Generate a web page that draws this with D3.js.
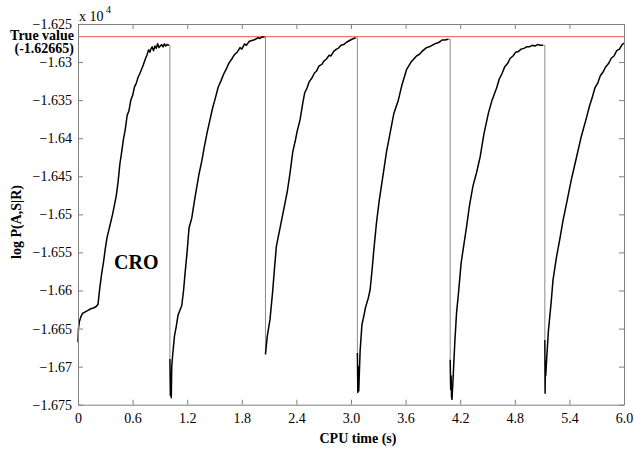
<!DOCTYPE html>
<html><head><meta charset="utf-8">
<script src="https://cdn.jsdelivr.net/npm/d3@7/dist/d3.min.js"></script>
<style>body{margin:0;background:#fff}svg{display:block}text{font-family:"Liberation Serif","Times New Roman",serif}</style>
</head><body><svg id="c" width="634" height="450"></svg>
<script>
// ---- data (log P values in units of 10^4) ----
const xTicks = [0, 0.6, 1.2, 1.8, 2.4, 3.0, 3.6, 4.2, 4.8, 5.4, 6.0];
const xTickLabels = ["0","0.6","1.2","1.8","2.4","3.0","3.6","4.2","4.8","5.4","6.0"];
const yTicks = [-1.675,-1.67,-1.665,-1.66,-1.655,-1.65,-1.645,-1.64,-1.635,-1.63,-1.625];
const yTickLabels = ["\u22121.675","\u22121.67","\u22121.665","\u22121.66","\u22121.655","\u22121.65","\u22121.645","\u22121.64","\u22121.635","\u22121.63","\u22121.625"];
const trueValue = -1.62665;

const seg1T = [0,0.005,0.015,0.03,0.05,0.08,0.11,0.14,0.17,0.20,0.22,0.24,0.26,0.28,0.30,0.32,0.34,0.36,0.38,0.40,0.42,0.44,0.46,0.48,0.50,0.52,0.54,0.56,0.58,0.60,0.62,0.64,0.66,0.68,0.70,0.72,0.74,0.76,0.775,0.79,0.80,0.815,0.83,0.845,0.86,0.875,0.89,0.905,0.92,0.935,0.95,0.965,0.98,1.00];
const seg1V = [-1.6668,-1.6650,-1.6641,-1.6635,-1.6630,-1.6628,-1.6626,-1.6624,-1.6623,-1.6621,-1.6618,-1.6596,-1.6578,-1.6563,-1.6545,-1.6530,-1.6520,-1.6510,-1.6500,-1.6488,-1.6476,-1.6458,-1.6434,-1.6418,-1.6401,-1.6388,-1.6370,-1.6364,-1.6350,-1.6344,-1.6333,-1.6328,-1.6320,-1.6315,-1.6309,-1.6303,-1.6296,-1.6290,-1.6284,-1.6287,-1.6283,-1.6280,-1.6285,-1.6279,-1.6282,-1.6276,-1.6281,-1.6279,-1.6277,-1.6280,-1.6276,-1.6279,-1.6277,-1.6278];

const seg2T = [1.010,1.015,1.020,1.025,1.030,1.04,1.06,1.08,1.10,1.12,1.14,1.16,1.18,1.20,1.22,1.25,1.28,1.30,1.33,1.36,1.39,1.42,1.45,1.48,1.51,1.54,1.57,1.60,1.63,1.66,1.69,1.72,1.75,1.78,1.80,1.83,1.85,1.88,1.90,1.93,1.95,1.98,2.00,2.02,2.05];
const seg2V = [-1.6690,-1.6738,-1.6712,-1.6741,-1.6700,-1.6685,-1.6660,-1.6647,-1.6632,-1.6626,-1.6620,-1.6600,-1.6573,-1.6548,-1.6518,-1.6505,-1.6482,-1.6468,-1.6447,-1.6430,-1.6410,-1.6392,-1.6376,-1.6360,-1.6347,-1.6333,-1.6325,-1.6316,-1.6309,-1.6301,-1.6296,-1.6290,-1.6287,-1.6281,-1.6283,-1.6276,-1.6278,-1.6273,-1.6272,-1.6271,-1.6270,-1.6268,-1.6269,-1.6267,-1.6267];

const seg3T = [2.060,2.08,2.11,2.14,2.16,2.18,2.20,2.22,2.24,2.26,2.28,2.30,2.33,2.36,2.39,2.41,2.44,2.47,2.49,2.52,2.54,2.57,2.60,2.62,2.65,2.68,2.70,2.73,2.76,2.78,2.81,2.84,2.86,2.89,2.92,2.95,2.98,3.01,3.03,3.05];
const seg3V = [-1.6684,-1.6660,-1.6638,-1.6600,-1.6570,-1.6542,-1.6530,-1.6518,-1.6506,-1.6494,-1.6482,-1.6470,-1.6446,-1.6418,-1.6402,-1.6390,-1.6376,-1.6354,-1.6341,-1.6333,-1.6326,-1.6321,-1.6314,-1.6312,-1.6305,-1.6303,-1.6299,-1.6296,-1.6291,-1.6292,-1.6286,-1.6283,-1.6282,-1.6278,-1.6277,-1.6274,-1.6272,-1.6270,-1.6269,-1.6268];

const seg4T = [3.070,3.075,3.080,3.085,3.09,3.10,3.12,3.14,3.16,3.19,3.21,3.23,3.25,3.28,3.31,3.35,3.39,3.43,3.47,3.52,3.56,3.61,3.64,3.66,3.69,3.72,3.75,3.78,3.80,3.83,3.86,3.89,3.92,3.95,3.98,4.00,4.03,4.07];
const seg4V = [-1.6682,-1.6734,-1.6700,-1.6732,-1.6715,-1.6680,-1.6645,-1.6634,-1.6622,-1.6610,-1.6599,-1.6575,-1.6548,-1.6511,-1.6482,-1.6450,-1.6418,-1.6393,-1.6368,-1.6350,-1.6330,-1.6310,-1.6304,-1.6300,-1.6296,-1.6292,-1.6290,-1.6286,-1.6284,-1.6281,-1.6280,-1.6278,-1.6276,-1.6275,-1.6273,-1.6271,-1.6271,-1.6270];

const seg5T = [4.090,4.095,4.100,4.105,4.110,4.12,4.14,4.16,4.18,4.21,4.24,4.27,4.30,4.34,4.38,4.42,4.46,4.51,4.55,4.60,4.63,4.66,4.69,4.72,4.75,4.78,4.81,4.84,4.87,4.90,4.93,4.96,4.99,5.02,5.05,5.08,5.11];
const seg5V = [-1.6691,-1.6730,-1.6712,-1.6740,-1.6743,-1.6720,-1.6670,-1.6629,-1.6605,-1.6564,-1.6540,-1.6516,-1.6490,-1.6463,-1.6445,-1.6424,-1.6395,-1.6367,-1.6350,-1.6334,-1.6322,-1.6315,-1.6306,-1.6302,-1.6295,-1.6292,-1.6287,-1.6286,-1.6283,-1.6282,-1.6280,-1.6280,-1.6278,-1.6279,-1.6277,-1.6278,-1.6278];

const seg6T = [5.130,5.133,5.136,5.14,5.15,5.17,5.20,5.22,5.26,5.30,5.33,5.37,5.42,5.48,5.53,5.59,5.62,5.65,5.68,5.71,5.74,5.77,5.80,5.83,5.86,5.89,5.92,5.95,5.98,6.00];
const seg6V = [-1.6665,-1.6735,-1.6700,-1.6712,-1.6690,-1.6652,-1.6615,-1.6586,-1.6555,-1.6529,-1.6508,-1.6485,-1.6455,-1.6424,-1.6398,-1.6372,-1.6358,-1.6347,-1.6334,-1.6328,-1.6318,-1.6313,-1.6306,-1.6302,-1.6295,-1.6292,-1.6285,-1.6283,-1.6277,-1.6275];

// ---- layout ----
const svg = d3.select("#c");
const L = 78, R = 624, T = 24, B = 404.7;
const x = d3.scaleLinear().domain([0, 6]).range([L, R]);
const y = d3.scaleLinear().domain([-1.675, -1.625]).range([B, T]);
const axisCol = "#808080";

const segs = [[seg1T,seg1V],[seg2T,seg2V],[seg3T,seg3V],[seg4T,seg4V],[seg5T,seg5V],[seg6T,seg6V]]
  .map(([t,v]) => t.map((d,i) => [d, v[i]]));

// true value line
svg.append("line").attr("x1", L).attr("x2", R).attr("y1", y(trueValue)).attr("y2", y(trueValue))
  .attr("stroke", "#f07878").attr("stroke-width", 1.2);

// connectors (restarts)
for (let i = 0; i < segs.length - 1; i++) {
  const a = segs[i][segs[i].length - 1], b = segs[i + 1][0];
  svg.append("path").attr("fill", "none").attr("stroke", "#8a8a8a").attr("stroke-width", 1)
    .attr("d", d3.line().x(d => x(d[0])).y(d => y(d[1]))([a, [b[0], a[1]], b]));
}
// segments
const line = d3.line().x(d => x(d[0])).y(d => y(d[1]));
segs.forEach(s => svg.append("path").attr("d", line(s)).attr("fill", "none")
  .attr("stroke", "#000").attr("stroke-width", 1.5).attr("stroke-linejoin", "round"));

// axes
const fs = "14px";
const gB = svg.append("g").attr("transform", `translate(0,${B})`)
  .call(d3.axisBottom(x).tickValues(xTicks).tickFormat((d,i) => xTickLabels[i]).tickSizeInner(-5).tickSizeOuter(0).tickPadding(12));
const gT = svg.append("g").attr("transform", `translate(0,${T})`)
  .call(d3.axisTop(x).tickValues(xTicks).tickFormat("").tickSizeInner(-5).tickSizeOuter(0));
const gL = svg.append("g").attr("transform", `translate(${L},0)`)
  .call(d3.axisLeft(y).tickValues(yTicks).tickFormat((d,i) => yTickLabels[i]).tickSizeInner(-5).tickSizeOuter(0).tickPadding(6));
const gR = svg.append("g").attr("transform", `translate(${R},0)`)
  .call(d3.axisRight(y).tickValues(yTicks).tickFormat("").tickSizeInner(-5).tickSizeOuter(0));
[gB, gT, gL, gR].forEach(g => {
  g.selectAll("path.domain").attr("stroke", axisCol);
  g.selectAll(".tick line").attr("stroke", axisCol);
  g.selectAll("text").attr("font-family", "Liberation Serif").attr("font-size", fs).attr("fill", "#000");
});
gB.selectAll(".tick text").attr("dy", "0.71em").attr("y", 8);

// labels
svg.append("text").attr("x", 358).attr("y", 443).attr("text-anchor", "middle")
  .attr("font-weight", "bold").attr("font-size", "14px").text("CPU time (s)");
svg.append("text").attr("transform", "translate(20.5,222) rotate(-90)").attr("text-anchor", "middle")
  .attr("font-weight", "bold").attr("font-size", "14px").text("log P(A,S|R)");
svg.append("text").attr("x", 74).attr("y", 39.5).attr("text-anchor", "end")
  .attr("font-weight", "bold").attr("font-size", "14px").text("True value");
svg.append("text").attr("x", 74).attr("y", 52.5).attr("text-anchor", "end")
  .attr("font-weight", "bold").attr("font-size", "14px").text("(-1.62665)");
svg.append("text").attr("x", 79).attr("y", 21).attr("font-size", "14px").text("x 10");
svg.append("text").attr("x", 106).attr("y", 13).attr("font-size", "10px").text("4");
svg.append("text").attr("x", 114).attr("y", 269).attr("font-weight", "bold").attr("font-size", "20px").text("CRO");
</script></body></html>
